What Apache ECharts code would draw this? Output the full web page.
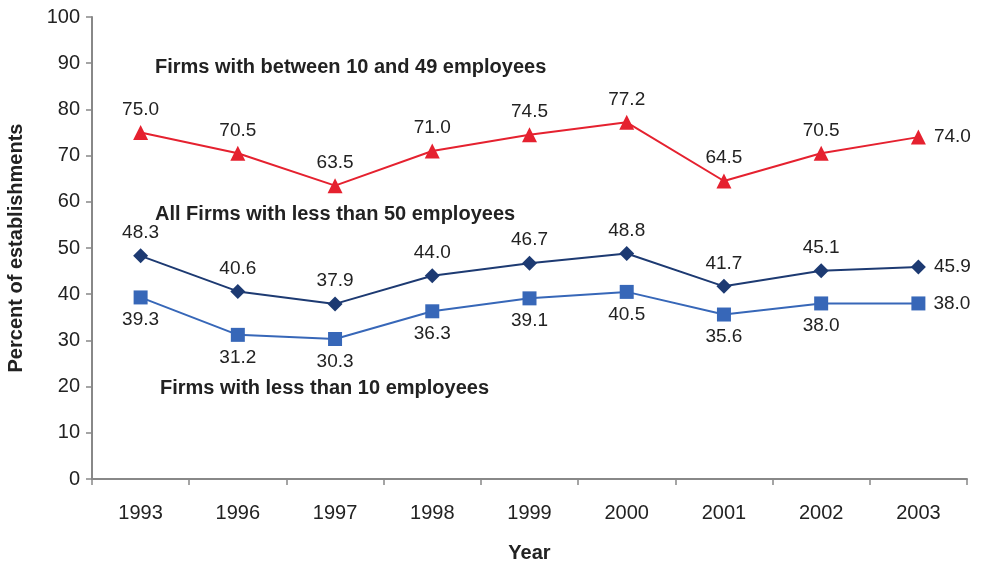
<!DOCTYPE html>
<html>
<head>
<meta charset="utf-8">
<script src="https://cdn.jsdelivr.net/npm/echarts@6/dist/echarts.min.js"></script>
<style>
  html, body { margin: 0; padding: 0; background: #fff; }
  #chart { width: 982px; height: 561px; }
</style>
</head>
<body>
<div id="chart"></div>
<script>
// Survey years
const years = ['1993', '1996', '1997', '1998', '1999', '2000', '2001', '2002', '2003'];

// Percent of establishments, by firm size
const between10and49 = [75.0, 70.5, 63.5, 71.0, 74.5, 77.2, 64.5, 70.5, 74.0];
const allUnder50 = [48.3, 40.6, 37.9, 44.0, 46.7, 48.8, 41.7, 45.1, 45.9];
const under10 = [39.3, 31.2, 30.3, 36.3, 39.1, 40.5, 35.6, 38.0, 38.0];

// Series captions written inside the plot
const captions = [
  'Firms with between 10 and 49 employees',
  'All Firms with less than 50 employees',
  'Firms with less than 10 employees'
];

const FONT = '"Liberation Sans", Arial, sans-serif';
const last = years.length - 1;

function valueLabel(pos, dist) {
  return {
    show: true,
    position: pos,
    distance: dist,
    color: '#222',
    fontFamily: FONT,
    fontSize: 19,
    formatter: p => p.value.toFixed(1)
  };
}

// Label positions: most points use the default side, the last point sits to the right
function withLastRight(values, dist) {
  return values.map((v, i) => i === last
    ? { value: v, label: { position: 'right', distance: dist } }
    : v);
}

const chart = echarts.init(document.getElementById('chart'), null, { renderer: 'canvas' });

chart.setOption({
  animation: false,
  backgroundColor: '#fff',
  grid: { left: 92, right: 15, top: 17, bottom: 82, containLabel: false, outerBoundsMode: 'none' },
  xAxis: {
    type: 'category',
    data: years,
    boundaryGap: true,
    name: 'Year',
    nameLocation: 'middle',
    nameGap: 64,
    nameTextStyle: { fontFamily: FONT, fontSize: 20, fontWeight: 'bold', color: '#222' },
    axisLine: { lineStyle: { color: '#888', width: 2 } },
    axisTick: { show: true, inside: false, length: 6, lineStyle: { color: '#888', width: 1.5 } },
    axisLabel: { color: '#222', fontFamily: FONT, fontSize: 20, margin: 24 },
    splitLine: { show: false }
  },
  yAxis: {
    type: 'value',
    min: 0,
    max: 100,
    interval: 10,
    name: 'Percent of establishments',
    nameLocation: 'middle',
    nameGap: 66,
    nameTextStyle: { fontFamily: FONT, fontSize: 20, fontWeight: 'bold', color: '#222' },
    axisLine: { show: true, lineStyle: { color: '#888', width: 2 } },
    axisTick: { show: true, inside: false, length: 6, lineStyle: { color: '#888', width: 1.5 } },
    axisLabel: { color: '#222', fontFamily: FONT, fontSize: 20, margin: 12 },
    splitLine: { show: false }
  },
  series: [
    {
      name: captions[0],
      type: 'line',
      data: withLastRight(between10and49, 8),
      symbol: 'triangle',
      symbolSize: 15,
      itemStyle: { color: '#e5212f' },
      lineStyle: { color: '#e5212f', width: 2 },
      label: valueLabel('top', 6)
    },
    {
      name: captions[1],
      type: 'line',
      data: withLastRight(allUnder50, 8),
      symbol: 'diamond',
      symbolSize: 15,
      itemStyle: { color: '#1d3a72' },
      lineStyle: { color: '#1d3a72', width: 2 },
      label: valueLabel('top', 6)
    },
    {
      name: captions[2],
      type: 'line',
      data: withLastRight(under10, 8),
      symbol: 'rect',
      symbolSize: 14,
      itemStyle: { color: '#3767b8' },
      lineStyle: { color: '#3767b8', width: 2 },
      label: valueLabel('bottom', 6)
    }
  ],
  graphic: [
    { type: 'text', left: 155, top: 57, style: { text: captions[0], fontFamily: FONT, fontSize: 20, fontWeight: 'bold', fill: '#222' } },
    { type: 'text', left: 155, top: 204, style: { text: captions[1], fontFamily: FONT, fontSize: 20, fontWeight: 'bold', fill: '#222' } },
    { type: 'text', left: 160, top: 378, style: { text: captions[2], fontFamily: FONT, fontSize: 20, fontWeight: 'bold', fill: '#222' } }
  ]
});
</script>
</body>
</html>
